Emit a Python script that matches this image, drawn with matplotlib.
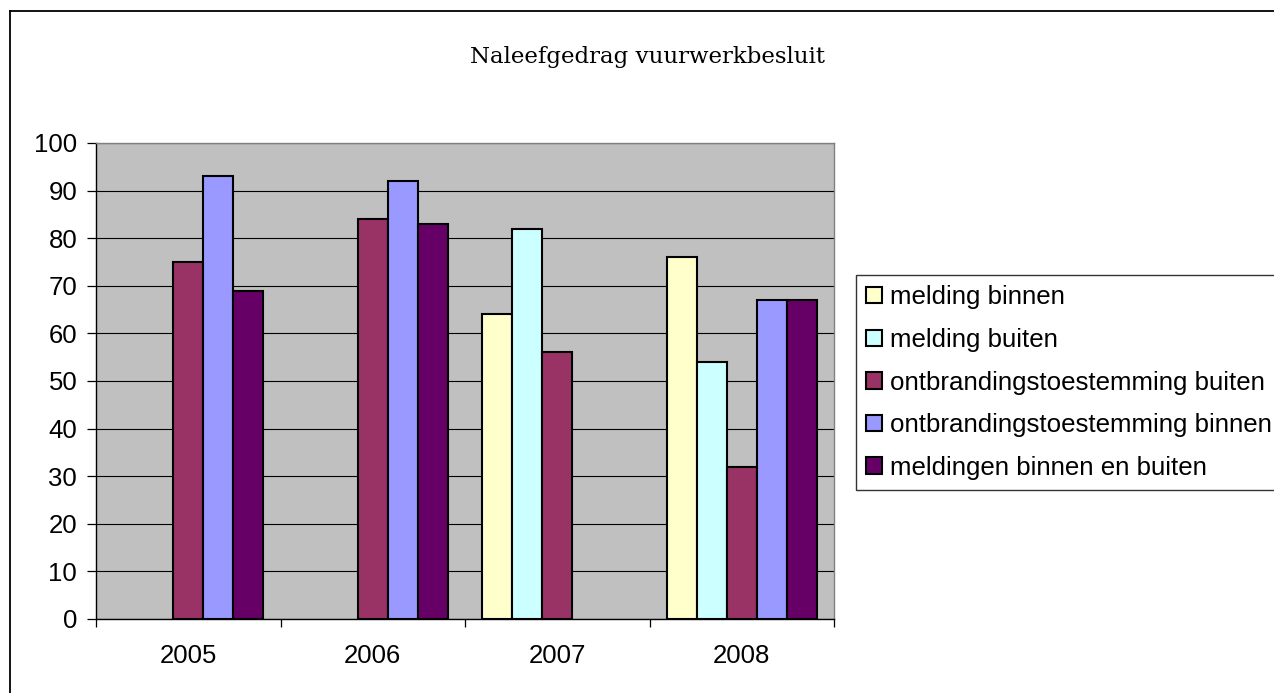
import numpy as np
import matplotlib
matplotlib.use("Agg")
import matplotlib.pyplot as plt
from matplotlib.lines import Line2D

# data
years = ["2005", "2006", "2007", "2008"]
series = ["melding binnen", "melding buiten", "ontbrandingstoestemming buiten",
          "ontbrandingstoestemming binnen", "meldingen binnen en buiten"]
melding_binnen = [np.nan, np.nan, 64, 76]
melding_buiten = [np.nan, np.nan, 82, 54]
ontbr_buiten = [75, 84, 56, 32]
ontbr_binnen = [93, 92, np.nan, 67]
meldingen_beide = [69, 83, np.nan, 67]
values = [melding_binnen, melding_buiten, ontbr_buiten, ontbr_binnen, meldingen_beide]
colors = ["#FFFFCC", "#CCFFFF", "#993366", "#9999FF", "#660066"]

plt.rcParams["font.family"] = ["Liberation Sans", "DejaVu Sans"]

fig = plt.figure(figsize=(12.74, 6.93), dpi=100)
ax = fig.add_axes([96 / 1274, 1 - 619 / 693, 738 / 1274, 476 / 693])
ax.set_facecolor("#C0C0C0")

x = np.arange(len(years))
w = 0.1626
for i, (name, vals, c) in enumerate(zip(series, values, colors)):
    ax.bar(x + (i - 2) * w, vals, w, color=c, edgecolor="black", linewidth=1.5,
           label=name, zorder=3)

ax.set_xlim(-0.5, 3.5)
ax.set_ylim(0, 100)
ax.set_yticks(range(0, 101, 10))
ax.yaxis.grid(True, color="black", linewidth=0.8, zorder=1)
ax.set_axisbelow(True)

ax.set_xticks(x)
ax.set_xticklabels(years)
ax.set_xticks(np.arange(-0.5, 3.6, 1), minor=True)
ax.tick_params(axis="x", which="major", length=0, pad=18, labelsize=18.5)
ax.tick_params(axis="x", which="minor", length=5.5, width=0.9, color="black")
ax.tick_params(axis="y", length=6.5, width=0.9, pad=7, labelsize=18.5)

for s in ["left", "bottom"]:
    ax.spines[s].set_color("black")
    ax.spines[s].set_linewidth(1.0)
for s in ["top", "right"]:
    ax.spines[s].set_color("#808080")
    ax.spines[s].set_linewidth(1.0)

fig.text(647 / 1274, 1 - 57 / 693, "Naleefgedrag vuurwerkbesluit",
         family="DejaVu Serif", fontsize=16.5, ha="center", va="center")

leg = fig.legend(loc="upper left", bbox_to_anchor=(856 / 1274, 1 - 275 / 693),
                 fontsize=18.6, frameon=True, fancybox=False, shadow=False,
                 handlelength=0.6, handleheight=0.6, handletextpad=0.33,
                 borderpad=0.4, labelspacing=0.72, borderaxespad=0)
leg.get_frame().set_edgecolor("black")
leg.get_frame().set_linewidth(1.0)

# outer chart frame (only top and left edges visible)
fig.add_artist(Line2D([10 / 1274, 1], [1 - 11 / 693, 1 - 11 / 693],
                      transform=fig.transFigure, color="black", linewidth=1.3))
fig.add_artist(Line2D([10 / 1274, 10 / 1274], [0, 1 - 11 / 693],
                      transform=fig.transFigure, color="black", linewidth=1.3))

fig.savefig("out.png", dpi=100)
